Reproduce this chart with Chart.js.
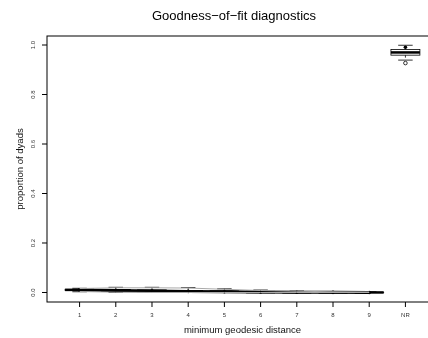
<!DOCTYPE html>
<html>
<head>
<meta charset="utf-8">
<script src="https://cdn.jsdelivr.net/npm/chart.js@4.4.1/dist/chart.umd.min.js"></script>
<style>
  html, body { margin: 0; padding: 0; background: #fff; overflow: hidden; }
  canvas { display: block; }
</style>
</head>
<body>
<canvas id="gofChart" width="444" height="338"></canvas>
<script>
// Categories (minimum geodesic distance, NR = not reachable)
const distLabels = ["1", "2", "3", "4", "5", "6", "7", "8", "9", "NR"];

// Observed proportion of dyads
const obsProp = [0.0105, 0.0085, 0.0060, 0.0045, 0.0030, 0.0018, 0.0010, 0.0005, 0.0002, 0.991];

// Simulated boxplot stats per category
const boxMin = [0.003, 0.000, 0.000, 0.000, 0.000, 0.000, 0.000, 0.000, 0.000, 0.939];
const boxQ1  = [0.008, 0.005, 0.003, 0.002, 0.001, 0.0005, 0.0002, 0.000, 0.000, 0.959];
const boxMed = [0.0105, 0.008, 0.006, 0.0045, 0.003, 0.0018, 0.001, 0.0005, 0.0002, 0.970];
const boxQ3  = [0.013, 0.012, 0.010, 0.008, 0.006, 0.004, 0.002, 0.001, 0.0005, 0.982];
const boxMax = [0.017, 0.021, 0.021, 0.020, 0.015, 0.010, 0.006, 0.004, 0.003, 0.999];
const boxOut = [[], [], [], [], [], [], [], [], [], [0.927]];

// Simulated 2.5% / 97.5% quantile lines (distances 1-9)
const lowerQ = [0.004, 0.001, 0.000, 0.000, 0.000, 0.000, 0.000, 0.000, 0.000];
const upperQ = [0.016, 0.019, 0.019, 0.018, 0.013, 0.008, 0.005, 0.003, 0.002];

// Axis ticks
const yTicks = [0, 0.2, 0.4, 0.6, 0.8, 1.0];

const FONT = '"Liberation Sans", Arial, Helvetica, sans-serif';

const toPoints = arr => arr.map((y, i) => ({ x: i + 1, y }));

// R-style boxplots drawn through the chart scales
const boxplotPlugin = {
  id: "boxplots",
  beforeDatasetsDraw(chart) {
    const { ctx, scales: { x, y } } = chart;
    ctx.save();
    distLabels.forEach((_, i) => {
      const xc = x.getPixelForValue(i + 1);
      const half = x.getPixelForValue(i + 1.4) - xc;
      const staple = half * 0.5;
      const yMin = y.getPixelForValue(boxMin[i]);
      const yQ1 = y.getPixelForValue(boxQ1[i]);
      const yMed = y.getPixelForValue(boxMed[i]);
      const yQ3 = y.getPixelForValue(boxQ3[i]);
      const yMax = y.getPixelForValue(boxMax[i]);

      // whiskers (dashed)
      ctx.strokeStyle = "#000";
      ctx.lineWidth = 0.8;
      ctx.setLineDash([2.5, 2.5]);
      ctx.beginPath();
      ctx.moveTo(xc, yQ3); ctx.lineTo(xc, yMax);
      ctx.moveTo(xc, yQ1); ctx.lineTo(xc, yMin);
      ctx.stroke();
      ctx.setLineDash([]);
      // staples
      ctx.beginPath();
      ctx.moveTo(xc - staple, yMax); ctx.lineTo(xc + staple, yMax);
      ctx.moveTo(xc - staple, yMin); ctx.lineTo(xc + staple, yMin);
      ctx.stroke();
      // box
      ctx.fillStyle = "#fff";
      ctx.fillRect(xc - half, yQ3, half * 2, yQ1 - yQ3);
      ctx.strokeRect(xc - half, yQ3, half * 2, yQ1 - yQ3);
      // median
      ctx.lineWidth = 2.5;
      ctx.beginPath();
      ctx.moveTo(xc - half, yMed); ctx.lineTo(xc + half, yMed);
      ctx.stroke();
      // outliers
      ctx.lineWidth = 0.8;
      boxOut[i].forEach(v => {
        ctx.beginPath();
        ctx.arc(xc, y.getPixelForValue(v), 1.8, 0, Math.PI * 2);
        ctx.stroke();
      });
    });
    ctx.restore();
  }
};

// R-style frame, ticks, labels and title
const rAxesPlugin = {
  id: "rAxes",
  afterDraw(chart) {
    const { ctx, chartArea: a, scales: { x, y } } = chart;
    ctx.save();
    ctx.strokeStyle = "#000";
    ctx.lineWidth = 1;
    ctx.strokeRect(a.left, a.top, a.right - a.left, a.bottom - a.top);

    // x axis ticks + labels
    ctx.fillStyle = "#333";
    ctx.font = "6px " + FONT;
    ctx.textAlign = "center";
    ctx.textBaseline = "middle";
    distLabels.forEach((lab, i) => {
      const px = x.getPixelForValue(i + 1);
      ctx.beginPath();
      ctx.moveTo(px, a.bottom); ctx.lineTo(px, a.bottom + 5);
      ctx.stroke();
      ctx.fillText(lab, px, a.bottom + 13);
    });

    // y axis ticks + rotated labels
    yTicks.forEach(v => {
      const py = y.getPixelForValue(v);
      ctx.beginPath();
      ctx.moveTo(a.left - 5, py); ctx.lineTo(a.left, py);
      ctx.stroke();
      ctx.save();
      ctx.translate(a.left - 14, py);
      ctx.rotate(-Math.PI / 2);
      ctx.fillText(v.toFixed(1), 0, 0);
      ctx.restore();
    });

    // axis titles
    ctx.fillStyle = "#111";
    ctx.font = "9.5px " + FONT;
    ctx.fillText("minimum geodesic distance", (a.left + a.right) / 2, a.bottom + 28);
    ctx.save();
    ctx.translate(a.left - 27, (a.top + a.bottom) / 2);
    ctx.rotate(-Math.PI / 2);
    ctx.fillText("proportion of dyads", 0, 0);
    ctx.restore();

    // main title
    ctx.fillStyle = "#000";
    ctx.font = "13px " + FONT;
    ctx.fillText("Goodness\u2212of\u2212fit diagnostics", 234, 16);
    ctx.restore();
  }
};

const ctx = document.getElementById("gofChart").getContext("2d");

new Chart(ctx, {
  type: "line",
  data: {
    datasets: [
      {
        label: "lower quantile",
        data: toPoints(lowerQ),
        borderColor: "#a9a9a9",
        borderWidth: 1,
        pointRadius: 0,
        tension: 0
      },
      {
        label: "upper quantile",
        data: toPoints(upperQ),
        borderColor: "#a9a9a9",
        borderWidth: 1,
        pointRadius: 0,
        tension: 0
      },
      {
        label: "observed",
        data: toPoints(obsProp.slice(0, 9)),
        borderColor: "#000",
        borderWidth: 3,
        pointRadius: 1.8,
        pointBackgroundColor: "#000",
        pointBorderWidth: 0,
        tension: 0
      },
      {
        label: "observed NR",
        data: [{ x: 10, y: obsProp[9] }],
        showLine: false,
        pointRadius: 1.8,
        pointBackgroundColor: "#000",
        pointBorderWidth: 0
      }
    ]
  },
  options: {
    responsive: false,
    animation: false,
    layout: { padding: { left: 47, right: 6, top: 36, bottom: 36 } },
    scales: {
      x: { type: "linear", min: 0.1, max: 10.9, display: false },
      y: { type: "linear", min: -0.0384, max: 1.0364, display: false }
    },
    plugins: {
      legend: { display: false },
      tooltip: { enabled: false }
    }
  },
  plugins: [boxplotPlugin, rAxesPlugin]
});
</script>
</body>
</html>
